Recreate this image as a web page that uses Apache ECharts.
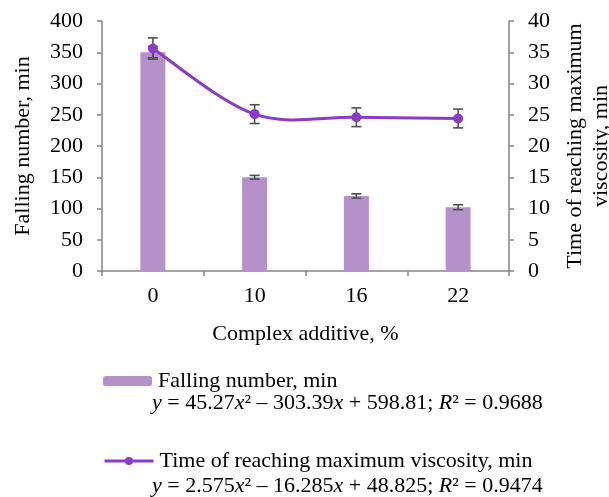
<!DOCTYPE html>
<html>
<head>
<meta charset="utf-8">
<script src="https://cdn.jsdelivr.net/npm/echarts@6/dist/echarts.min.js"></script>
<style>html,body{margin:0;padding:0;background:#fff;}#c{width:609px;height:497px;}</style>
</head>
<body>
<div id="c"></div>
<script>
const categories = ['0', '10', '16', '22'];
const fallingNumber = [350, 150, 120, 102];
const fallingErr = [9, 3, 3.5, 4];
const viscosityTime = [35.6, 25.1, 24.6, 24.4];
const viscosityErr = [1.7, 1.5, 1.5, 1.5];
const leftTicks = { min: 0, max: 400, interval: 50 };
const rightTicks = { min: 0, max: 40, interval: 5 };
const barName = 'Falling number, min';
const lineName = 'Time of reaching maximum viscosity, min';
const barEq = '{i|y} = 45.27{i|x}² – 303.39{i|x} + 598.81; {i|R}² = 0.9688';
const lineEq = '{i|y} = 2.575{i|x}² – 16.285{i|x} + 48.825; {i|R}² = 0.9474';

const FONT = '"Liberation Serif", "Times New Roman", serif';
const BAR_COLOR = '#b591ca';
const LINE_COLOR = '#8a3cc6';
const AXIS_COLOR = '#868686';
const ERR_COLOR = '#505050';

function errData(vals, errs) {
  return vals.map((v, i) => [i, v - errs[i], v + errs[i]]);
}
function errRender(params, api) {
  const x = api.value(0);
  const lo = api.coord([x, api.value(1)]);
  const hi = api.coord([x, api.value(2)]);
  const w = 5;
  const st = { stroke: ERR_COLOR, lineWidth: 1.6 };
  return {
    type: 'group',
    children: [
      { type: 'line', shape: { x1: hi[0], y1: hi[1], x2: lo[0], y2: lo[1] }, style: st },
      { type: 'line', shape: { x1: hi[0] - w, y1: hi[1], x2: hi[0] + w, y2: hi[1] }, style: st },
      { type: 'line', shape: { x1: lo[0] - w, y1: lo[1], x2: lo[0] + w, y2: lo[1] }, style: st }
    ]
  };
}
// Excel-like smoothed curve (Catmull-Rom style Bezier) through the series points, via the axis scales
function curveRender(params, api) {
  if (params.dataIndex !== 0) return null;
  const pts = viscosityTime.map((v, i) => api.coord([i, v]));
  let d = 'M' + pts[0][0] + ' ' + pts[0][1];
  for (let i = 0; i < pts.length - 1; i++) {
    const p0 = pts[Math.max(0, i - 1)], p1 = pts[i], p2 = pts[i + 1], p3 = pts[Math.min(pts.length - 1, i + 2)];
    const c1 = [p1[0] + (p2[0] - p0[0]) / 6, p1[1] + (p2[1] - p0[1]) / 6];
    const c2 = [p2[0] - (p3[0] - p1[0]) / 6, p2[1] - (p3[1] - p1[1]) / 6];
    d += ' C' + c1[0] + ' ' + c1[1] + ' ' + c2[0] + ' ' + c2[1] + ' ' + p2[0] + ' ' + p2[1];
  }
  return { type: 'path', shape: { pathData: d }, style: { fill: null, stroke: LINE_COLOR, lineWidth: 3 } };
}

const axisCommon = {
  axisLine: { show: true, lineStyle: { color: AXIS_COLOR, width: 1.5 } },
  axisTick: { show: true, length: 5, lineStyle: { color: AXIS_COLOR, width: 1.5 } },
  axisLabel: { color: '#000', fontFamily: FONT, fontSize: 22, margin: 19 },
  splitLine: { show: false },
  nameTextStyle: { color: '#000', fontFamily: FONT, fontSize: 22 }
};

const chart = echarts.init(document.getElementById('c'));
chart.setOption({
  animation: false,
  backgroundColor: '#fff',
  grid: { left: 102, right: 100, top: 21, bottom: 226, containLabel: false, outerBoundsMode: 'none' },
  xAxis: Object.assign({}, axisCommon, {
    type: 'category',
    data: categories,
    boundaryGap: true,
    name: 'Complex additive, %',
    nameLocation: 'middle',
    nameGap: 52,
    axisLabel: Object.assign({}, axisCommon.axisLabel, { margin: 14 })
  }),
  yAxis: [
    Object.assign({}, axisCommon, {
      type: 'value',
      position: 'left',
      min: leftTicks.min, max: leftTicks.max, interval: leftTicks.interval,
      name: barName,
      nameLocation: 'middle',
      nameRotate: 90,
      nameGap: 68
    }),
    Object.assign({}, axisCommon, {
      type: 'value',
      position: 'right',
      min: rightTicks.min, max: rightTicks.max, interval: rightTicks.interval,
      name: 'Time of reaching maximum\nviscosity, min',
      nameLocation: 'middle',
      nameRotate: 90,
      nameGap: 53,
      nameTextStyle: Object.assign({}, axisCommon.nameTextStyle, { lineHeight: 26 })
    })
  ],
  legend: [
    {
      data: [barName], left: 98, top: 365, itemWidth: 49, itemHeight: 10, itemGap: 6,
      textStyle: { color: '#000', fontFamily: FONT, fontSize: 22, padding: [0, 0, 0, 1] },
      selectedMode: false
    },
    {
      data: [{ name: lineName, lineStyle: { opacity: 1, color: LINE_COLOR, width: 3 } }],
      left: 98, top: 445, itemWidth: 49, itemHeight: 10,
      textStyle: { color: '#000', fontFamily: FONT, fontSize: 22, padding: [0, 0, 0, 1] },
      selectedMode: false
    }
  ],
  graphic: [
    {
      type: 'text', left: 152, top: 392,
      style: { text: barEq, font: '22px ' + FONT, fill: '#000', rich: { i: { fontStyle: 'italic', fontFamily: FONT, fontSize: 22 } } }
    },
    {
      type: 'text', left: 152, top: 475,
      style: { text: lineEq, font: '22px ' + FONT, fill: '#000', rich: { i: { fontStyle: 'italic', fontFamily: FONT, fontSize: 22 } } }
    }
  ],
  series: [
    {
      name: barName, type: 'bar', yAxisIndex: 0, data: fallingNumber, barWidth: 25,
      itemStyle: { color: BAR_COLOR }, z: 2
    },
    {
      name: 'barErr', type: 'custom', yAxisIndex: 0, data: errData(fallingNumber, fallingErr),
      renderItem: errRender, z: 3, silent: true
    },
    {
      name: 'curve', type: 'custom', yAxisIndex: 1, data: viscosityTime.map((v, i) => [i, v]),
      renderItem: curveRender, z: 4, silent: true
    },
    {
      name: 'lineErr', type: 'custom', yAxisIndex: 1, data: errData(viscosityTime, viscosityErr),
      renderItem: errRender, z: 5, silent: true
    },
    {
      name: lineName, type: 'line', yAxisIndex: 1, data: viscosityTime,
      symbol: 'circle', symbolSize: 10,
      lineStyle: { color: LINE_COLOR, width: 3, opacity: 0 }, itemStyle: { color: LINE_COLOR }, z: 6
    }
  ]
});
</script>
</body>
</html>
